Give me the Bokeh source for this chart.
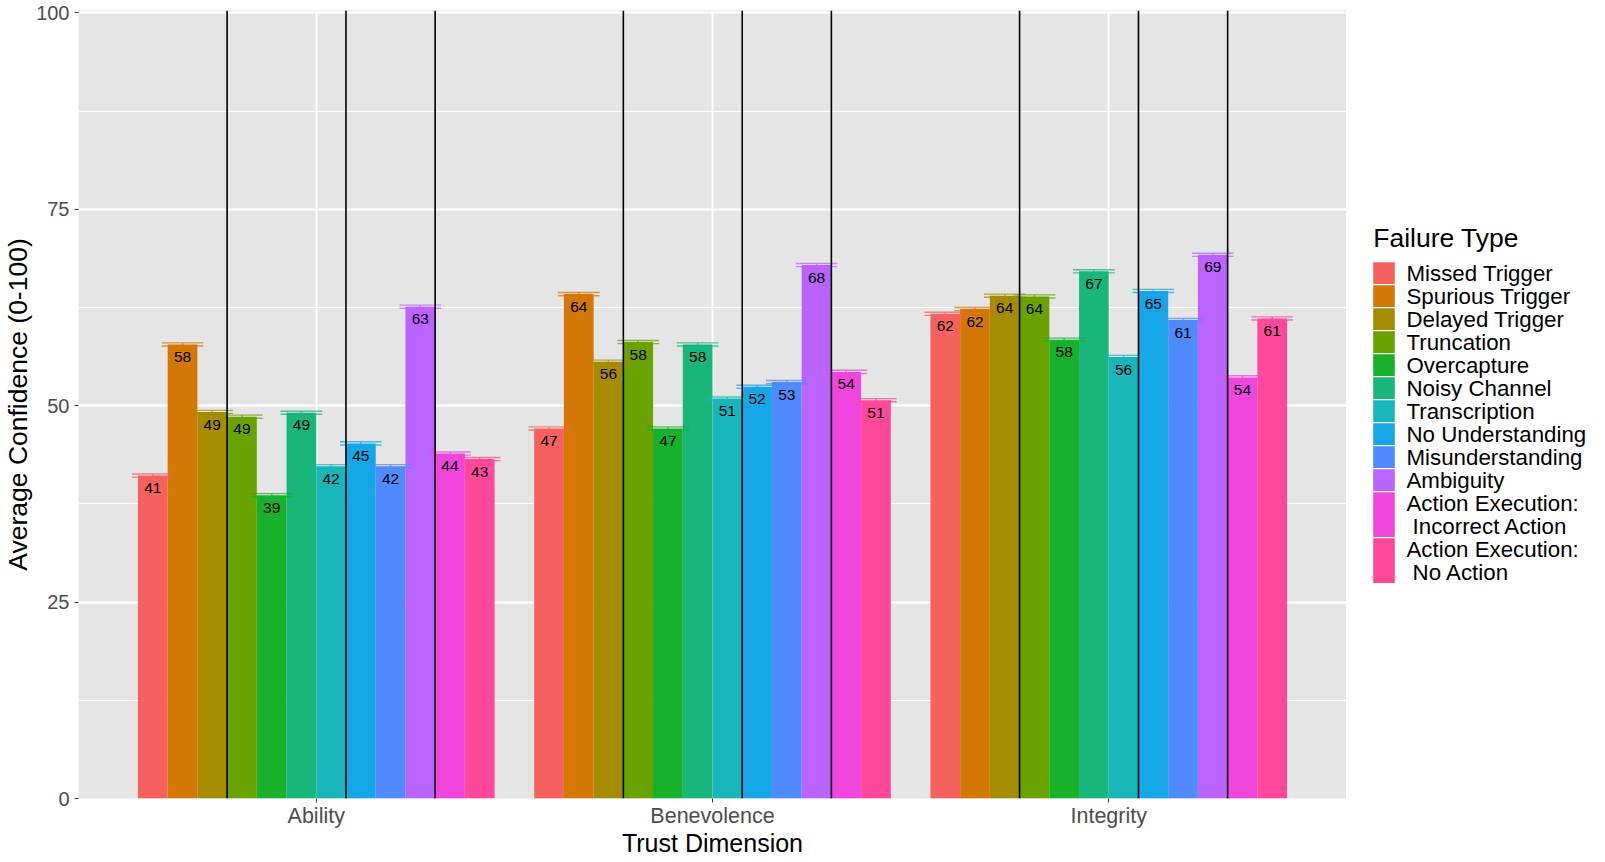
from bokeh.plotting import figure
from bokeh.layouts import row
from bokeh.models import Range1d, FixedTicker, ColumnDataSource
from bokeh.core.properties import value
from bokeh.embed import file_html
from bokeh.resources import INLINE

# ---------------- data ----------------
dimensions = ["Ability", "Benevolence", "Integrity"]
failure_types = [
    "Missed Trigger", "Spurious Trigger", "Delayed Trigger", "Truncation",
    "Overcapture", "Noisy Channel", "Transcription", "No Understanding",
    "Misunderstanding", "Ambiguity",
    "Action Execution:\n Incorrect Action", "Action Execution:\n No Action",
]
ability = [41.1, 57.8, 49.2, 48.6, 38.6, 49.1, 42.3, 45.2, 42.3, 62.6, 43.9, 43.2]
benevolence = [47.1, 64.2, 55.6, 58.1, 47.1, 57.8, 50.9, 52.4, 53.0, 67.9, 54.3, 50.7]
integrity = [61.7, 62.3, 64.0, 63.9, 58.4, 67.1, 56.2, 64.6, 60.9, 69.2, 53.6, 61.1]
err_ability = [0.2, 0.2, 0.2, 0.2, 0.2, 0.2, 0.2, 0.2, 0.2, 0.2, 0.2, 0.2]
err_benevolence = [0.2, 0.2, 0.2, 0.2, 0.2, 0.2, 0.2, 0.2, 0.2, 0.2, 0.2, 0.2]
err_integrity = [0.2, 0.2, 0.2, 0.2, 0.2, 0.2, 0.2, 0.2, 0.2, 0.2, 0.2, 0.2]
# separator lines are drawn after these failure types (category group ends)
group_ends = ["Delayed Trigger", "Transcription", "Ambiguity"]
y_ticks = [0, 25, 50, 75, 100]

colors = ["#F5625E", "#D47805", "#A68C00", "#6AA300", "#19B02C", "#18B67A",
          "#18B5BA", "#15A6E8", "#508AFF", "#BA63FF", "#F046DE", "#FF489C"]

FONT = value("Liberation Sans")
series = [ability, benevolence, integrity]
errors = [err_ability, err_benevolence, err_integrity]

n = len(failure_types)
dodge = 0.9
bw = dodge / n

xs, tops, cols, lo, hi, labs, laby = [], [], [], [], [], [], []
for g, (vals, errs) in enumerate(zip(series, errors), start=1):
    for j, (v, e) in enumerate(zip(vals, errs)):
        xs.append(g - dodge / 2 + bw * (j + 0.5))
        tops.append(v)
        cols.append(colors[j])
        lo.append(v - e)
        hi.append(v + e)
        labs.append(str(int(v + 0.5)))
        laby.append(v - 1.6)

src = ColumnDataSource(dict(x=xs, top=tops, color=cols, lo=lo, hi=hi,
                            lab=labs, laby=laby,
                            x0=[x - bw * 0.7 for x in xs],
                            x1=[x + bw * 0.7 for x in xs]))

TB = 10      # top border
FH = 788     # frame height
y_end = 100.3
p = figure(frame_width=1268, frame_height=FH,
           x_range=Range1d(0.4, 0.4 + len(dimensions) + 0.2),
           y_range=Range1d(0, y_end),
           output_backend="svg", toolbar_location=None,
           min_border_left=72, min_border_right=0, min_border_top=TB,
           min_border_bottom=0, background_fill_color="#E5E5E5",
           border_fill_color="white")
p.outline_line_color = None

p.vbar(x="x", top="top", bottom=0, width=bw, fill_color="color",
       line_color=None, source=src)
# error bars
for yk in ("hi", "lo"):
    p.segment(x0="x0", x1="x1", y0=yk, y1=yk, line_color="color",
              line_alpha=0.75, line_width=1.4, source=src)
p.segment(x0="x", x1="x", y0="lo", y1="hi", line_color="color",
          line_alpha=0.75, line_width=1.4, source=src)

# separator lines
sx = []
for g in range(1, len(dimensions) + 1):
    for name in group_ends:
        j = failure_types.index(name)
        sx.append(g - dodge / 2 + bw * (j + 1))
p.segment(x0=sx, x1=sx, y0=[0] * len(sx), y1=[y_end] * len(sx),
          line_color="black", line_width=1.6)

p.text(x="x", y="laby", text="lab", source=src, text_align="center",
       text_baseline="middle", text_font=FONT, text_font_size="15.5px",
       text_color="black")

# axes
p.xaxis.ticker = FixedTicker(ticks=list(range(1, len(dimensions) + 1)))
p.xaxis.major_label_overrides = {i + 1: d for i, d in enumerate(dimensions)}
minor = [(a + b) / 2 for a, b in zip(y_ticks[:-1], y_ticks[1:])]
p.yaxis.ticker = FixedTicker(ticks=y_ticks, minor_ticks=minor)
for ax in (p.xaxis, p.yaxis):
    ax.axis_line_color = None
    ax.major_tick_line_color = "#333333"
    ax.major_tick_line_width = 1
    ax.major_tick_out = 4
    ax.major_tick_in = 0
    ax.minor_tick_line_color = None
    ax.major_label_text_color = "#4D4D4D"
    ax.major_label_text_font = "Liberation Sans"
    ax.axis_label_text_font = "Liberation Sans"
    ax.axis_label_text_color = "black"
    ax.axis_label_text_font_style = "normal"
    ax.axis_label_standoff = 0
p.xaxis.axis_label_standoff = -2
p.xaxis.major_label_text_font_size = "21.5px"
p.yaxis.major_label_text_font_size = "20px"
p.xaxis.major_label_standoff = 1
p.yaxis.major_label_standoff = 5
p.xaxis.axis_label = "Trust Dimension"
p.yaxis.axis_label = "Average Confidence (0-100)"
p.xaxis.axis_label_text_font_size = "25px"
p.yaxis.axis_label_text_font_size = "26.5px"

p.xgrid.grid_line_color = "white"
p.xgrid.grid_line_width = 2
p.ygrid.grid_line_color = "white"
p.ygrid.grid_line_width = 2
p.ygrid.minor_grid_line_color = "white"
p.ygrid.minor_grid_line_width = 1

# ---------------- legend (separate panel, frame aligned with main plot) -----
LW = 249
leg = figure(frame_width=LW, frame_height=FH, x_range=Range1d(0, LW),
             y_range=Range1d(FH, 0), output_backend="svg",
             toolbar_location=None, x_axis_type=None, y_axis_type=None,
             min_border_left=0, min_border_right=0, min_border_top=TB,
             min_border_bottom=0,
             background_fill_color="white", border_fill_color="white")
leg.outline_line_color = None
leg.grid.visible = False

off = TB   # picture y of the frame top
key_x0, key_x1, lab_x = 26.7, 48.3, 60.0
line_h, gap = 23.0, 1.3
title_y = 237.0 - off
y = 261.7 - off
kq = dict(left=[], right=[], top=[], bottom=[], color=[])
tl = dict(x=[], y=[], text=[])
for name, c in zip(failure_types, colors):
    lines = name.split("\n")
    h = line_h * len(lines)
    kq["left"].append(key_x0)
    kq["right"].append(key_x1)
    kq["top"].append(y)
    kq["bottom"].append(y + h - gap)
    kq["color"].append(c)
    for k, ln in enumerate(lines):
        lead = len(ln) - len(ln.lstrip(" "))
        tl["x"].append(lab_x + lead * 0.278 * 22)
        tl["y"].append(y + line_h * k + (line_h - gap) / 2 + 0.5)
        tl["text"].append(ln.lstrip(" "))
    y += h

leg.quad(left="left", right="right", top="top", bottom="bottom",
         fill_color="color", line_color=None, source=ColumnDataSource(kq))
leg.text(x="x", y="y", text="text", source=ColumnDataSource(tl),
         text_align="left", text_baseline="middle", text_font=FONT,
         text_font_size="22.3px", text_color="black")
leg.text(x=[key_x0], y=[title_y], text=["Failure Type"], text_align="left",
         text_baseline="alphabetic", text_font=FONT, text_font_size="26.5px",
         text_color="black")

layout = row(p, leg)
open("out.html", "w").write(file_html(layout, INLINE))
